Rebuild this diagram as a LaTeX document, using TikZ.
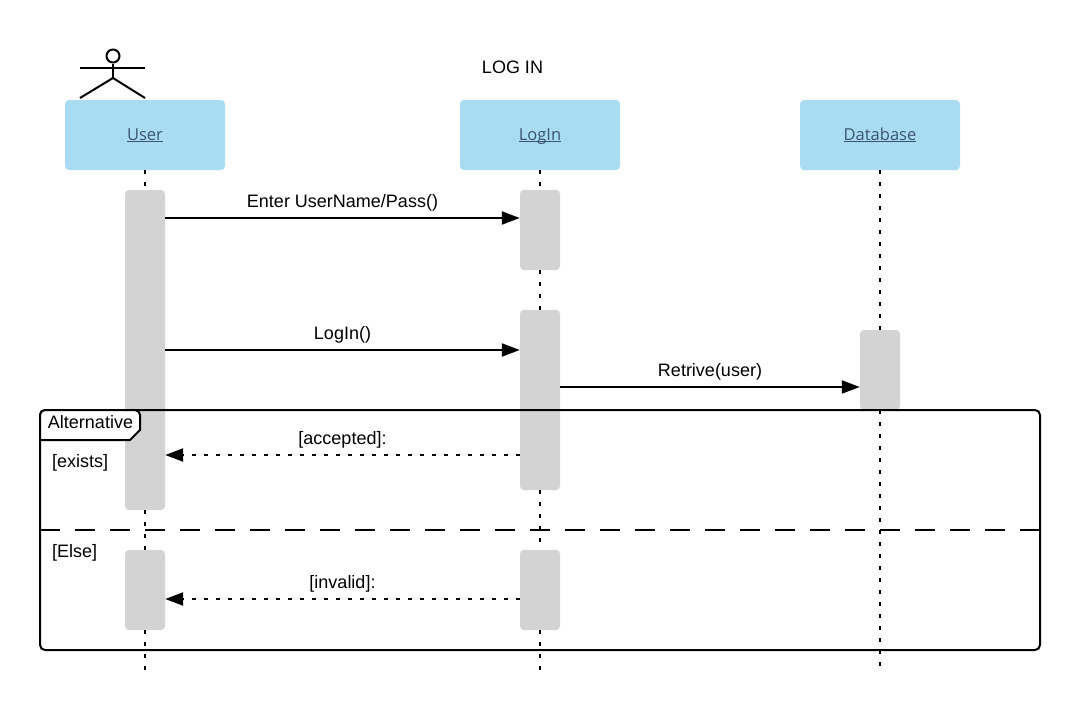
\documentclass[tikz,border=0pt]{standalone}
\usepackage{fontspec}
\setmainfont{Liberation Sans}
\newfontfamily\headfont{Open Sans}
\usetikzlibrary{arrows.meta}
\definecolor{headblue}{HTML}{A9DCF3}
\definecolor{headtext}{HTML}{3A556F}
\definecolor{activegray}{HTML}{D3D3D3}
\tikzset{
    head/.style={
        fill=headblue, rounded corners=4pt, minimum width=160pt, minimum height=70pt,
        inner sep=0pt, text height=13pt, text depth=3pt, text=headtext,
        font=\headfont\fontsize{16.5}{18}\selectfont
    },
    active/.style={
        fill=activegray, rounded corners=4pt, minimum width=40pt, inner sep=0pt
    },
    lifeline/.style={line width=2pt, dash pattern=on 4pt off 8pt},
    msg/.style={line width=2pt, -{Triangle[length=18pt,width=13pt]}},
    reply/.style={msg, dash pattern=on 4pt off 8pt},
    lbl/.style={inner sep=0pt, text height=13pt, text depth=4pt, font=\fontsize{18}{20}\selectfont}
}
\newcommand{\headname}[1]{\underline{\smash{#1}}}
\newcommand{\activation}[4] {
	\node[active, minimum height=#4pt-#3pt] (#1) at (#2,#3/2+#4/2) {};
}
\begin{document}
\begin{tikzpicture}[x=1pt,y=-1pt]
		\useasboundingbox (0,0) rectangle (1080,710);

		% Actor
		\node[draw, circle, line width=2pt, minimum size=13pt, inner sep=0pt] (head) at (113,56) {};
		\coordinate (armL) at (80,68);
		\coordinate (armR) at (145,68);
		\coordinate (hip) at (113,78);
		\coordinate (legL) at (80,98);
		\coordinate (legR) at (145,98);
		\draw[line width=2pt] (armL) -- (armR);
		\draw[line width=2pt] (head) -- (hip);
		\draw[line width=2pt] (legL) -- (hip) -- (legR);

		% Headers
		\node[head] (userH) at (145,135) {\headname{User}};
		\node[head] (loginH) at (540,135) {\headname{LogIn}};
		\node[head] (dbH) at (880,135) {\headname{Database}};
		\node[lbl] (title) at (512.5,69) {LOG IN};

		% Activations
		\activation{userA}{145}{190}{510}
		\activation{userB}{145}{550}{630}
		\activation{loginA}{540}{190}{270}
		\activation{loginB}{540}{310}{490}
		\activation{loginC}{540}{550}{630}
		\activation{dbA}{880}{330}{410}

		% Lifelines
		\coordinate (userEnd) at (145,670);
		\coordinate (loginEnd) at (540,670);
		\coordinate (dbEnd) at (880,670);
		\draw[lifeline] (userH) -- (userA);
		\draw[lifeline] (userA) -- (userB);
		\draw[lifeline] (userB) -- (userEnd);
		\draw[lifeline] (loginH) -- (loginA);
		\draw[lifeline] (loginA) -- (loginB);
		\draw[lifeline] (loginB) -- (loginC);
		\draw[lifeline] (loginC) -- (loginEnd);
		\draw[lifeline] (dbH) -- (dbA);
		\draw[lifeline] (dbA) -- (dbEnd);

		% Messages
		\coordinate (enterY) at (0,218);
		\coordinate (loginY) at (0,350);
		\coordinate (retriveY) at (0,387);
		\coordinate (acceptedY) at (0,455);
		\coordinate (invalidY) at (0,599);
		\draw[msg] (userA.east |- enterY) -- (loginA.west |- enterY);
		\draw[msg] (userA.east |- loginY) -- (loginB.west |- loginY);
		\draw[msg] (loginB.east |- retriveY) -- (dbA.west |- retriveY);
		\draw[reply] (loginB.west |- acceptedY) -- (userA.east |- acceptedY);
		\draw[reply] (loginC.west |- invalidY) -- (userB.east |- invalidY);
		\node[lbl] (enterL) at (342.5,203) {Enter UserName/Pass()};
		\node[lbl] (loginL) at (342.5,335) {LogIn()};
		\node[lbl] (retriveL) at (710,372) {Retrive(user)};
		\node[lbl] (acceptedL) at (342.5,440) {[accepted]:};
		\node[lbl] (invalidL) at (342.5,584) {[invalid]:};

		% Alternative frame
		\draw[line width=2pt, rounded corners=5pt] (40,410) rectangle (1040,650);
		\draw[line width=2pt, fill=white, rounded corners=5pt] (40,440) -- (40,410) -- (140,410) [sharp corners] -- (140,430) -- (130,440) -- cycle;
		\coordinate (elseL) at (40,530);
		\coordinate (elseR) at (1040,530);
		\draw[line width=2pt, dash pattern=on 20pt off 15pt] (elseL) -- (elseR);
		\node[lbl] (altL) at (90.5,424) {Alternative};
		\node[lbl, anchor=west] (existsL) at (52,463) {[exists]};
		\node[lbl, anchor=west] (elseT) at (52,553) {[Else]};
	\end{tikzpicture}
\end{document}
